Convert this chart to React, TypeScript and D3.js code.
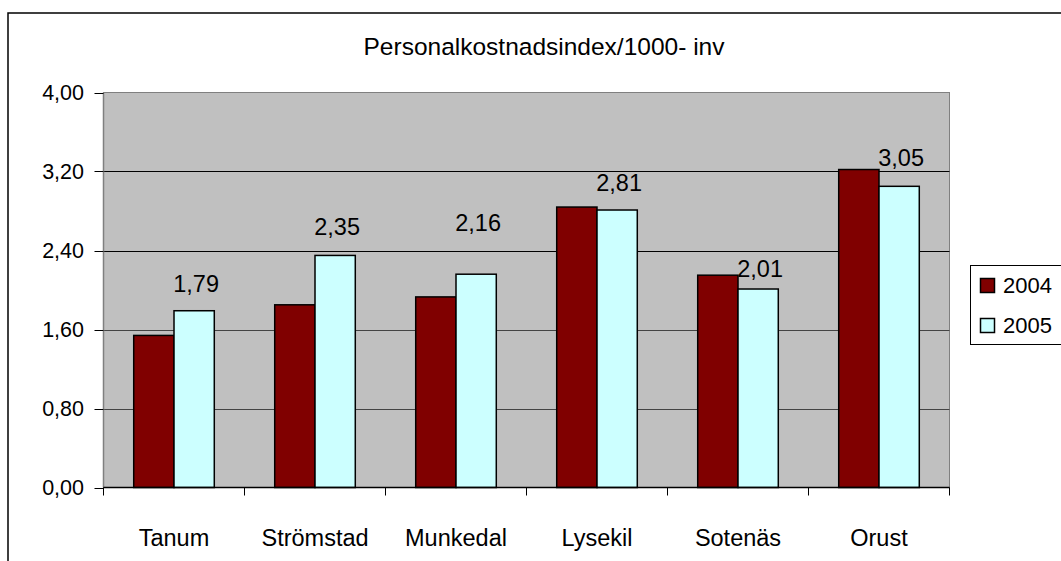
import React from "react";
import * as d3 from "d3";

const categories = ["Tanum", "Strömstad", "Munkedal", "Lysekil", "Sotenäs", "Orust"];
const series = ["2004", "2005"];
const values2004 = [1.54, 1.85, 1.93, 2.84, 2.15, 3.22];
const values2005 = [1.79, 2.35, 2.16, 2.81, 2.01, 3.05];
const yTicks = [0, 0.8, 1.6, 2.4, 3.2, 4.0];
const title = "Personalkostnadsindex/1000- inv";

const colors: Record<string, string> = { "2004": "#800000", "2005": "#CCFFFF" };
// label lift (px above bar top) per category, matching manual label placement
const labelLift: Record<string, number> = {
  Tanum: 19, "Strömstad": 20, Munkedal: 43, Lysekil: 19, "Sotenäs": 12, Orust: 20,
};

const W = 1061, H = 561;
const plot = { left: 103.5, right: 949.5, top: 92.5, bottom: 487.5 };
const font = "Arial, 'Liberation Sans', sans-serif";
const fmt = (v: number) => v.toFixed(2).replace(".", ",");

export default function App() {
  const y = d3.scaleLinear().domain([0, 4]).range([plot.bottom, plot.top]);
  const x0 = d3.scaleBand<string>().domain(categories).range([plot.left, plot.right]).paddingInner(0).paddingOuter(0);
  const bw = x0.bandwidth();
  const barW = bw / 3.5;
  const gap = barW * 0.75;
  const x1 = d3.scaleBand<string>().domain(series).range([gap, bw - gap]);
  const data: Record<string, number[]> = { "2004": values2004, "2005": values2005 };
  const catTicks = [...categories.map((c) => x0(c) as number), plot.right];

  return (
    <svg width={W} height={H} style={{ position: "absolute", left: 0, top: 0, background: "#fff" }} fontFamily={font}>
      <rect x={8} y={13} width={W + 20} height={H + 20} fill="#fff" stroke="#000" strokeWidth={1.5} />
      <text x={544} y={55} textAnchor="middle" fontSize={24.5} fill="#000">{title}</text>
      <rect x={plot.left} y={plot.top} width={plot.right - plot.left} height={plot.bottom - plot.top} fill="#C0C0C0" stroke="#808080" strokeWidth={1} />
      {yTicks.slice(1, -1).map((t) => (
        <line key={t} x1={plot.left} x2={plot.right} y1={Math.round(y(t)) + 0.5} y2={Math.round(y(t)) + 0.5} stroke={t < 2 ? "#444" : "#000"} strokeWidth={1} />
      ))}
      {categories.map((c, i) =>
        series.map((s) => {
          const v = data[s][i];
          const xx = (x0(c) as number) + (x1(s) as number);
          return (
            <rect key={c + s} x={xx} y={y(v)} width={x1.bandwidth()} height={plot.bottom - y(v)} fill={colors[s]} stroke="#000" strokeWidth={1.5} />
          );
        })
      )}
      {/* y axis */}
      <line x1={plot.left} x2={plot.left} y1={plot.top} y2={plot.bottom} stroke="#808080" strokeWidth={1.5} />
      {yTicks.map((t) => (
        <g key={t}>
          <line x1={plot.left - 9} x2={plot.left} y1={Math.round(y(t)) + 0.5} y2={Math.round(y(t)) + 0.5} stroke="#000" />
          <text x={84} y={y(t)} dy="0.36em" textAnchor="end" fontSize={21.5} fill="#000">{fmt(t)}</text>
        </g>
      ))}
      {/* x axis */}
      <line x1={plot.left} x2={plot.right} y1={plot.bottom} y2={plot.bottom} stroke="#000" strokeWidth={1.5} />
      {catTicks.map((t, i) => (
        <line key={i} x1={t} x2={t} y1={plot.bottom} y2={plot.bottom + 8} stroke="#000" />
      ))}
      {categories.map((c) => (
        <text key={c} x={(x0(c) as number) + bw / 2} y={546} textAnchor="middle" fontSize={23.5} fill="#000">{c}</text>
      ))}
      {/* data labels for 2005 */}
      {categories.map((c, i) => {
        const v = values2005[i];
        const cx = (x0(c) as number) + (x1("2005") as number) + x1.bandwidth() / 2 + 2;
        return (
          <text key={c} x={cx} y={y(v) - labelLift[c]} textAnchor="middle" fontSize={23.5} fill="#000">{fmt(v)}</text>
        );
      })}
      {/* legend */}
      <rect x={970.5} y={265.5} width={100} height={79} fill="#fff" stroke="#000" strokeWidth={1} />
      {series.map((s, i) => (
        <g key={s}>
          <rect x={980.5} y={278.5 + i * 40} width={14} height={14} fill={colors[s]} stroke="#000" strokeWidth={1.5} />
          <text x={1003} y={292.5 + i * 40} fontSize={22} fill="#000">{s}</text>
        </g>
      ))}
    </svg>
  );
}
